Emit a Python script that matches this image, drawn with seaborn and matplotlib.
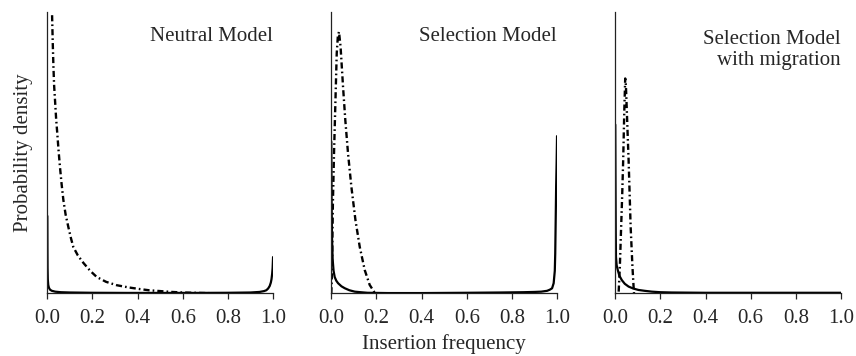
import seaborn as sns
import matplotlib.pyplot as plt
import numpy as np

# values (y in arbitrary density units, axis top = 1)
neutral_x = [0.0, 0.0005, 0.001, 0.002, 0.004, 0.007, 0.012, 0.02, 0.035, 0.06, 0.1, 0.2,
             0.35, 0.5, 0.65, 0.8, 0.9, 0.94, 0.96, 0.97, 0.978, 0.985, 0.99, 0.993, 0.996,
             0.998, 1.0]
neutral_y = [0.275, 0.16, 0.09, 0.05, 0.03, 0.02, 0.013, 0.009, 0.006, 0.004, 0.003, 0.002,
             0.0015, 0.0015, 0.0015, 0.002, 0.003, 0.005, 0.008, 0.011, 0.017, 0.026, 0.038,
             0.05, 0.07, 0.09, 0.129]
neutral_dd_x = [0.021, 0.024, 0.027, 0.030, 0.034, 0.039, 0.044, 0.050, 0.056, 0.063, 0.071,
                0.081, 0.093, 0.104, 0.115, 0.135, 0.160, 0.19, 0.219, 0.26, 0.307, 0.36,
                0.411, 0.45, 0.50, 0.55, 0.60, 0.65, 0.70, 0.75]
neutral_dd_y = [0.989, 0.89, 0.806, 0.74, 0.687, 0.62, 0.569, 0.505, 0.449, 0.39, 0.332,
                0.28, 0.236, 0.198, 0.165, 0.135, 0.108, 0.08, 0.058, 0.041, 0.029, 0.021,
                0.015, 0.011, 0.008, 0.005, 0.003, 0.002, 0.001, 0.0]

selection_x = [0.0, 0.001, 0.003, 0.006, 0.01, 0.015, 0.022, 0.03, 0.045, 0.06, 0.08, 0.104,
               0.13, 0.16, 0.25, 0.4, 0.6, 0.75, 0.85, 0.9, 0.93, 0.956, 0.968, 0.978, 0.985,
               0.99, 0.992, 0.994, 0.996, 0.998, 1.0]
selection_y = [0.539, 0.35, 0.2, 0.12, 0.08, 0.058, 0.045, 0.036, 0.025, 0.018, 0.011, 0.006,
               0.004, 0.002, 0.001, 0.001, 0.002, 0.003, 0.004, 0.005, 0.006, 0.009, 0.013,
               0.018, 0.036, 0.08, 0.142, 0.26, 0.379, 0.46, 0.559]
selection_dd_x = [0.0, 0.002, 0.004, 0.007, 0.012, 0.018, 0.024, 0.029, 0.034, 0.041, 0.052,
                  0.062, 0.074, 0.089, 0.107, 0.126, 0.148, 0.170, 0.189, 0.20]
selection_dd_y = [0.0, 0.05, 0.143, 0.32, 0.498, 0.676, 0.853, 0.915, 0.93, 0.877, 0.734,
                  0.616, 0.498, 0.378, 0.260, 0.165, 0.083, 0.030, 0.006, 0.0]

migration_x = [0.0, 0.001, 0.002, 0.003, 0.006, 0.011, 0.018, 0.029, 0.042, 0.059, 0.08,
               0.103, 0.13, 0.162, 0.2, 0.25, 0.4, 0.6, 0.8, 1.0]
migration_y = [0.6, 0.4, 0.22, 0.13, 0.1, 0.083, 0.063, 0.047, 0.034, 0.024, 0.017, 0.012,
               0.009, 0.006, 0.004, 0.003, 0.002, 0.002, 0.002, 0.002]
migration_dd_x = [0.015, 0.020, 0.026, 0.031, 0.035, 0.040, 0.044, 0.047, 0.051, 0.055,
                  0.059, 0.068, 0.076, 0.081, 0.083]
migration_dd_y = [0.006, 0.09, 0.237, 0.36, 0.474, 0.652, 0.764, 0.74, 0.652, 0.56, 0.474,
                  0.237, 0.095, 0.024, 0.0]

titles = ['Neutral Model', 'Selection Model', 'Selection Model\nwith migration']
xticks = [0.0, 0.2, 0.4, 0.6, 0.8, 1.0]
xticklabels = ['0.0', '0.2', '0.4', '0.6', '0.8', '1.0']

sns.set_style('ticks')
plt.rcParams['font.family'] = ['Liberation Serif', 'DejaVu Serif']
plt.rcParams['font.size'] = 15

fig, axes = plt.subplots(1, 3, figsize=(8.56, 3.56), dpi=100)
fig.subplots_adjust(left=0.0553, right=0.9825, bottom=0.176, top=0.966, wspace=0.258)

curves = [(neutral_x, neutral_y, neutral_dd_x, neutral_dd_y),
          (selection_x, selection_y, selection_dd_x, selection_dd_y),
          (migration_x, migration_y, migration_dd_x, migration_dd_y)]
dashdot = (0, (2.6, 1.3, 0.7, 1.3))

for ax, (sx, sy, dx, dy), title in zip(axes, curves, titles):
    sns.lineplot(x=sx, y=sy, ax=ax, color='black', lw=1.6, sort=False)
    sns.lineplot(x=dx, y=dy, ax=ax, color='black', lw=1.7, linestyle=dashdot, sort=False)
    ax.set_xlim(0, 1)
    ax.set_ylim(0, 1)
    ax.set_xticks(xticks)
    ax.set_xticklabels(xticklabels)
    ax.set_yticks([])
    ax.tick_params(axis='x', direction='out', length=4, width=0.9, pad=7, labelsize=15)
    for side in ('left', 'bottom'):
        ax.spines[side].set_linewidth(0.9)
        ax.spines[side].set_color('#222222')
    if '\n' in title:
        ax.text(1.0, 0.865, title, transform=ax.transAxes, ha='right', va='center',
                multialignment='right', linespacing=1.15, fontsize=15)
    else:
        ax.text(1.0, 0.912, title, transform=ax.transAxes, ha='right', va='center',
                fontsize=15)
sns.despine(fig=fig)

axes[0].set_ylabel('Probability density', fontsize=15, labelpad=10)
axes[1].set_xlabel('Insertion frequency', fontsize=15, labelpad=5)

fig.savefig('out.png', dpi=100)
